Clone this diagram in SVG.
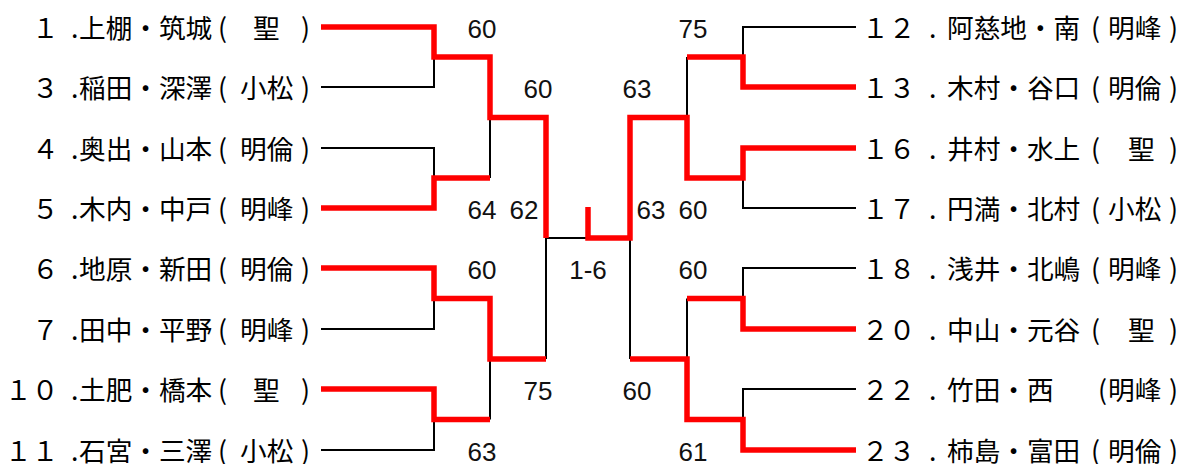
<svg xmlns="http://www.w3.org/2000/svg" width="1194" height="464" viewBox="0 0 1194 464">
<style>
.nm{font-family:"Noto Sans CJK JP","Noto Sans CJK SC",sans-serif;font-size:26.67px;fill:#000}
.sc{font-family:"Liberation Sans",Arial,sans-serif;font-size:26px;fill:#111;text-anchor:middle}
.bk{fill:none;stroke:#000;stroke-width:2}
.rd{fill:none;stroke:#ff0000;stroke-width:5.5;stroke-linejoin:miter}
</style>
<rect width="1194" height="464" fill="#fff"/>
<g id="connectors">
<path class="bk" d="M321 87H434V57M321 148H434V178M490 117.5V178M321 329H434V298.5M321 450H434V419.5M490 359V419.5M546 238V359M546 238H588"/>
<path class="bk" d="M856 27H743V57M687 57V117.5M856 208H743V178M856 268H743V298.5M687 298.5V359M856 389H743V419.5M630 238V359"/>
<path class="rd" d="M321 27H434V57H490V117.5H546V238"/>
<path class="rd" d="M321 208H434V178H490"/>
<path class="rd" d="M321 268H434V298.5H490V359H546"/>
<path class="rd" d="M321 389H434V419.5H490"/>
<path class="rd" d="M588 207V238H630V117.5H687V178H743V148H856"/>
<path class="rd" d="M856 87H743V57H687"/>
<path class="rd" d="M630 359H687V419.5H743V450H856"/>
<path class="rd" d="M687 298.5H743V329H856"/>
</g>
<g id="scores">
<text class="sc" x="482" y="37.5">60</text>
<text class="sc" x="538" y="97.5">60</text>
<text class="sc" x="482" y="218.5">64</text>
<text class="sc" x="524" y="218.5">62</text>
<text class="sc" x="482" y="278.5">60</text>
<text class="sc" x="538" y="399.5">75</text>
<text class="sc" x="482" y="460.5">63</text>
<text class="sc" x="588" y="278.5">1-6</text>
<text class="sc" x="693" y="37.5">75</text>
<text class="sc" x="637" y="97.5">63</text>
<text class="sc" x="651" y="218.5">63</text>
<text class="sc" x="693" y="218.5">60</text>
<text class="sc" x="693" y="278.5">60</text>
<text class="sc" x="637" y="399.5">60</text>
<text class="sc" x="693" y="460.5">61</text>
</g>
<g id="p1"><text class="nm" y="38"><tspan x="32">１</tspan><tspan x="71">.</tspan><tspan x="79">上棚・筑城</tspan><tspan x="218">(</tspan><tspan x="253">聖</tspan><tspan x="301">)</tspan></text></g>
<g id="p3"><text class="nm" y="98"><tspan x="32">３</tspan><tspan x="71">.</tspan><tspan x="79">稲田・深澤</tspan><tspan x="218">(</tspan><tspan x="240">小松</tspan><tspan x="301">)</tspan></text></g>
<g id="p4"><text class="nm" y="159"><tspan x="32">４</tspan><tspan x="71">.</tspan><tspan x="79">奥出・山本</tspan><tspan x="218">(</tspan><tspan x="240">明倫</tspan><tspan x="301">)</tspan></text></g>
<g id="p5"><text class="nm" y="219"><tspan x="32">５</tspan><tspan x="71">.</tspan><tspan x="79">木内・中戸</tspan><tspan x="218">(</tspan><tspan x="240">明峰</tspan><tspan x="301">)</tspan></text></g>
<g id="p6"><text class="nm" y="279"><tspan x="32">６</tspan><tspan x="71">.</tspan><tspan x="79">地原・新田</tspan><tspan x="218">(</tspan><tspan x="240">明倫</tspan><tspan x="301">)</tspan></text></g>
<g id="p7"><text class="nm" y="340"><tspan x="32">７</tspan><tspan x="71">.</tspan><tspan x="79">田中・平野</tspan><tspan x="218">(</tspan><tspan x="240">明峰</tspan><tspan x="301">)</tspan></text></g>
<g id="p10"><text class="nm" y="400"><tspan x="5">１０</tspan><tspan x="71">.</tspan><tspan x="79">土肥・橋本</tspan><tspan x="218">(</tspan><tspan x="253">聖</tspan><tspan x="301">)</tspan></text></g>
<g id="p11"><text class="nm" y="461"><tspan x="5">１１</tspan><tspan x="71">.</tspan><tspan x="79">石宮・三澤</tspan><tspan x="218">(</tspan><tspan x="240">小松</tspan><tspan x="301">)</tspan></text></g>
<g id="p12"><text class="nm" y="38"><tspan x="862">１２</tspan><tspan x="929">.</tspan><tspan x="947">阿慈地・南</tspan><tspan x="1091">(</tspan><tspan x="1108">明峰</tspan><tspan x="1169">)</tspan></text></g>
<g id="p13"><text class="nm" y="98"><tspan x="862">１３</tspan><tspan x="929">.</tspan><tspan x="947">木村・谷口</tspan><tspan x="1091">(</tspan><tspan x="1108">明倫</tspan><tspan x="1169">)</tspan></text></g>
<g id="p16"><text class="nm" y="159"><tspan x="862">１６</tspan><tspan x="929">.</tspan><tspan x="947">井村・水上</tspan><tspan x="1091">(</tspan><tspan x="1128">聖</tspan><tspan x="1169">)</tspan></text></g>
<g id="p17"><text class="nm" y="219"><tspan x="862">１７</tspan><tspan x="929">.</tspan><tspan x="947">円満・北村</tspan><tspan x="1091">(</tspan><tspan x="1108">小松</tspan><tspan x="1169">)</tspan></text></g>
<g id="p18"><text class="nm" y="279"><tspan x="862">１８</tspan><tspan x="929">.</tspan><tspan x="947">浅井・北嶋</tspan><tspan x="1091">(</tspan><tspan x="1108">明峰</tspan><tspan x="1169">)</tspan></text></g>
<g id="p20"><text class="nm" y="340"><tspan x="862">２０</tspan><tspan x="929">.</tspan><tspan x="947">中山・元谷</tspan><tspan x="1091">(</tspan><tspan x="1128">聖</tspan><tspan x="1169">)</tspan></text></g>
<g id="p22"><text class="nm" y="400"><tspan x="862">２２</tspan><tspan x="929">.</tspan><tspan x="947">竹田・西</tspan><tspan x="1098">(</tspan><tspan x="1108">明峰</tspan><tspan x="1169">)</tspan></text></g>
<g id="p23"><text class="nm" y="461"><tspan x="862">２３</tspan><tspan x="929">.</tspan><tspan x="947">柿島・富田</tspan><tspan x="1091">(</tspan><tspan x="1108">明倫</tspan><tspan x="1169">)</tspan></text></g>
</svg>
